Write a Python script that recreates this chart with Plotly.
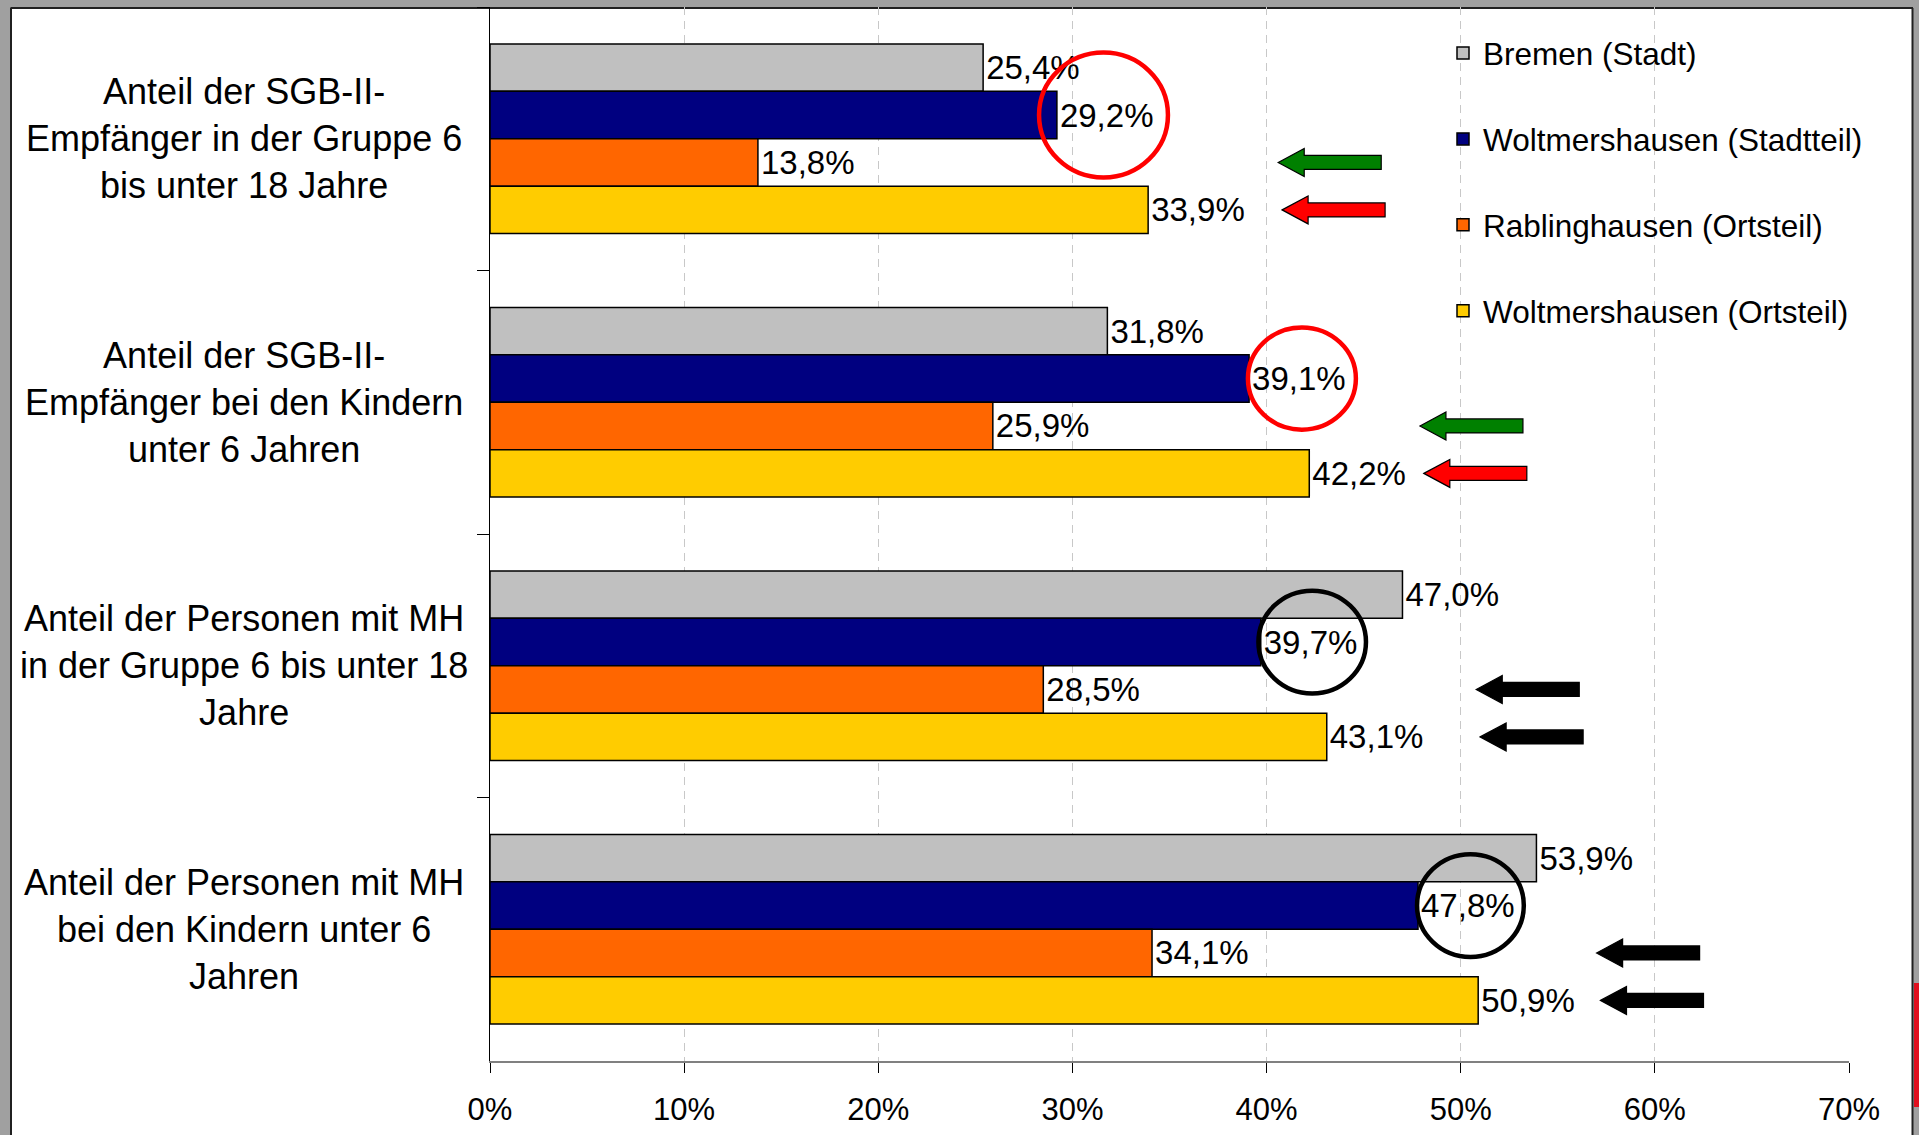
import plotly.graph_objects as go

# ---------------- data ----------------
categories = [
    "Anteil der SGB-II-<br>Empfänger in der Gruppe 6<br>bis unter 18 Jahre",
    "Anteil der SGB-II-<br>Empfänger bei den Kindern<br>unter 6 Jahren",
    "Anteil der Personen mit MH<br>in der Gruppe 6 bis unter 18<br>Jahre",
    "Anteil der Personen mit MH<br>bei den Kindern unter 6<br>Jahren",
]
series_names = [
    "Bremen (Stadt)",
    "Woltmershausen (Stadtteil)",
    "Rablinghausen (Ortsteil)",
    "Woltmershausen (Ortsteil)",
]
bremen_stadt = [25.4, 31.8, 47.0, 53.9]
woltmershausen_stadtteil = [29.2, 39.1, 39.7, 47.8]
rablinghausen_ortsteil = [13.8, 25.9, 28.5, 34.1]
woltmershausen_ortsteil = [33.9, 42.2, 43.1, 50.9]
x_tick_values = [0, 10, 20, 30, 40, 50, 60, 70]
x_tick_labels = ["0%", "10%", "20%", "30%", "40%", "50%", "60%", "70%"]

series_values = [bremen_stadt, woltmershausen_stadtteil,
                 rablinghausen_ortsteil, woltmershausen_ortsteil]

# ---------------- styles ----------------
bar_colors = ["#C0C0C0", "#000080", "#FF6600", "#FFCC00"]
FONT = "Liberation Sans, Arial, sans-serif"
BARGAP = 0.28

# highlight circles around the Woltmershausen (Stadtteil) labels
circle_colors = ["#FF0000", "#FF0000", "#000000", "#000000"]
circle_dx = [2.4, 2.72, 2.65, 2.7]          # centre shift right of bar end (x units)
circle_r = [(3.32, 0.237), (2.78, 0.194), (2.77, 0.195), (2.75, 0.195)]

# block arrows (tip x position for the Rablinghausen row / Woltmershausen-Ortsteil row)
arrow_tips = [(40.6, 40.8), (47.9, 48.1), (50.8, 51.0), (57.0, 57.2)]
arrow_fill = [("#008000", "#FF0000"), ("#008000", "#FF0000"),
              ("#000000", "#000000"), ("#000000", "#000000")]

W, H = 1919, 1135
ML, MR, MT, MB = 490, 70, 7, 74
PW, PH = W - ML - MR, H - MT - MB


def px_to_paper_x(px):
    return (px - ML) / PW


def px_to_paper_y(py):
    return (H - MB - py) / PH


n = len(series_names)
bw = (1 - BARGAP) / n


def row_offset(i):
    return -0.5 * (1 - BARGAP) + bw * (i + 0.5)


fig = go.Figure()
for name, vals, col in zip(series_names, series_values, bar_colors):
    fig.add_trace(go.Bar(
        y=categories, x=vals, name=name, orientation="h",
        legendgroup=name,
        marker=dict(color=col, line=dict(color="#000000", width=1.5)),
        texttemplate="%{x:.1f}%", textposition="outside",
        textfont=dict(family=FONT, size=33, color="#000000"),
        constraintext="none", cliponaxis=False,
        hoverinfo="skip",
    ))

shapes = []
annotations = []

# category labels (centred multi-line)
for ci, cat in enumerate(categories):
    annotations.append(dict(
        x=px_to_paper_x(244), xref="paper", y=ci, yref="y",
        text=cat, showarrow=False, xanchor="center", yanchor="middle",
        align="center", font=dict(family=FONT, size=36, color="#000000"),
    ))

# circles around Woltmershausen (Stadtteil) values
for ci, v in enumerate(woltmershausen_stadtteil):
    cx = v + circle_dx[ci]
    cy = ci + row_offset(1)
    rx, ry = circle_r[ci]
    shapes.append(dict(
        type="circle", xref="x", yref="y",
        x0=cx - rx, x1=cx + rx, y0=cy - ry, y1=cy + ry,
        line=dict(color=circle_colors[ci], width=4.5), layer="above",
    ))

# block arrows
arrow_path = "M0,0 L26,14 L26,7 L103,7 L103,-7 L26,-7 L26,-14 Z"
for ci, (t1, t2) in enumerate(arrow_tips):
    for row, tip, col in ((2, t1, arrow_fill[ci][0]), (3, t2, arrow_fill[ci][1])):
        shapes.append(dict(
            type="path", xref="x", yref="y",
            xsizemode="pixel", ysizemode="pixel",
            xanchor=tip, yanchor=ci + row_offset(row),
            path=arrow_path, fillcolor=col,
            line=dict(color="#000000", width=1.2), layer="above",
        ))

# slide frame (grey border of the screenshot)
grey = "#A0A0A0"
frame = [
    (0, 0, 11, H, grey),          # left strip
    (0, 0, W, 7.5, grey),         # top strip
    (1913, 0, W, H, grey),        # right strip
    (1914, 983, W, 1107, "#E0101F"),  # red tab at right
]
for x0, y0, x1, y1, c in frame:
    shapes.append(dict(
        type="rect", xref="paper", yref="paper",
        x0=px_to_paper_x(x0), x1=px_to_paper_x(x1),
        y0=px_to_paper_y(y1), y1=px_to_paper_y(y0),
        fillcolor=c, line=dict(width=0), layer="below",
    ))
# dark frame lines
for x0, y0, x1, y1 in [(11, 7.5, 11, H), (11, 8, 1913, 8), (1912.5, 8, 1912.5, H)]:
    shapes.append(dict(
        type="line", xref="paper", yref="paper",
        x0=px_to_paper_x(x0), x1=px_to_paper_x(x1),
        y0=px_to_paper_y(y0), y1=px_to_paper_y(y1),
        line=dict(color="#202020", width=2), layer="below",
    ))

fig.update_layout(
    width=W, height=H,
    margin=dict(l=ML, r=MR, t=MT, b=MB, pad=0),
    paper_bgcolor="#FFFFFF", plot_bgcolor="#FFFFFF",
    barmode="group", bargap=BARGAP, bargroupgap=0,
    separators=",.",
    font=dict(family=FONT, color="#000000"),
    xaxis=dict(
        range=[0, 70], tickmode="array", tickvals=x_tick_values,
        ticktext=x_tick_labels,
        showgrid=True, gridcolor="#C8C8C8", gridwidth=1, griddash="8px,6px",
        zeroline=False, showline=True, linecolor="#808080", linewidth=2,
        ticks="outside", ticklen=10, tickcolor="#000000", tickwidth=1,
        tickfont=dict(family=FONT, size=31, color="#000000"),
        ticklabelstandoff=10,
    ),
    yaxis=dict(
        type="category", categoryorder="array", categoryarray=categories,
        range=[len(categories) - 0.5, -0.5],
        showticklabels=False, showgrid=False, zeroline=False,
        showline=True, linecolor="#000000", linewidth=1,
        ticks="outside", tickson="boundaries", ticklen=12,
        tickcolor="#000000", tickwidth=1,
    ),
    legend=dict(
        x=px_to_paper_x(1443), xanchor="left",
        y=0.982, yanchor="top",
        traceorder="grouped", tracegroupgap=42,
        font=dict(family=FONT, size=31.5, color="#000000"),
        bgcolor="rgba(0,0,0,0)", borderwidth=0,
    ),
    shapes=shapes,
    annotations=annotations,
)

fig.write_html("out.html", config={"displayModeBar": False})
